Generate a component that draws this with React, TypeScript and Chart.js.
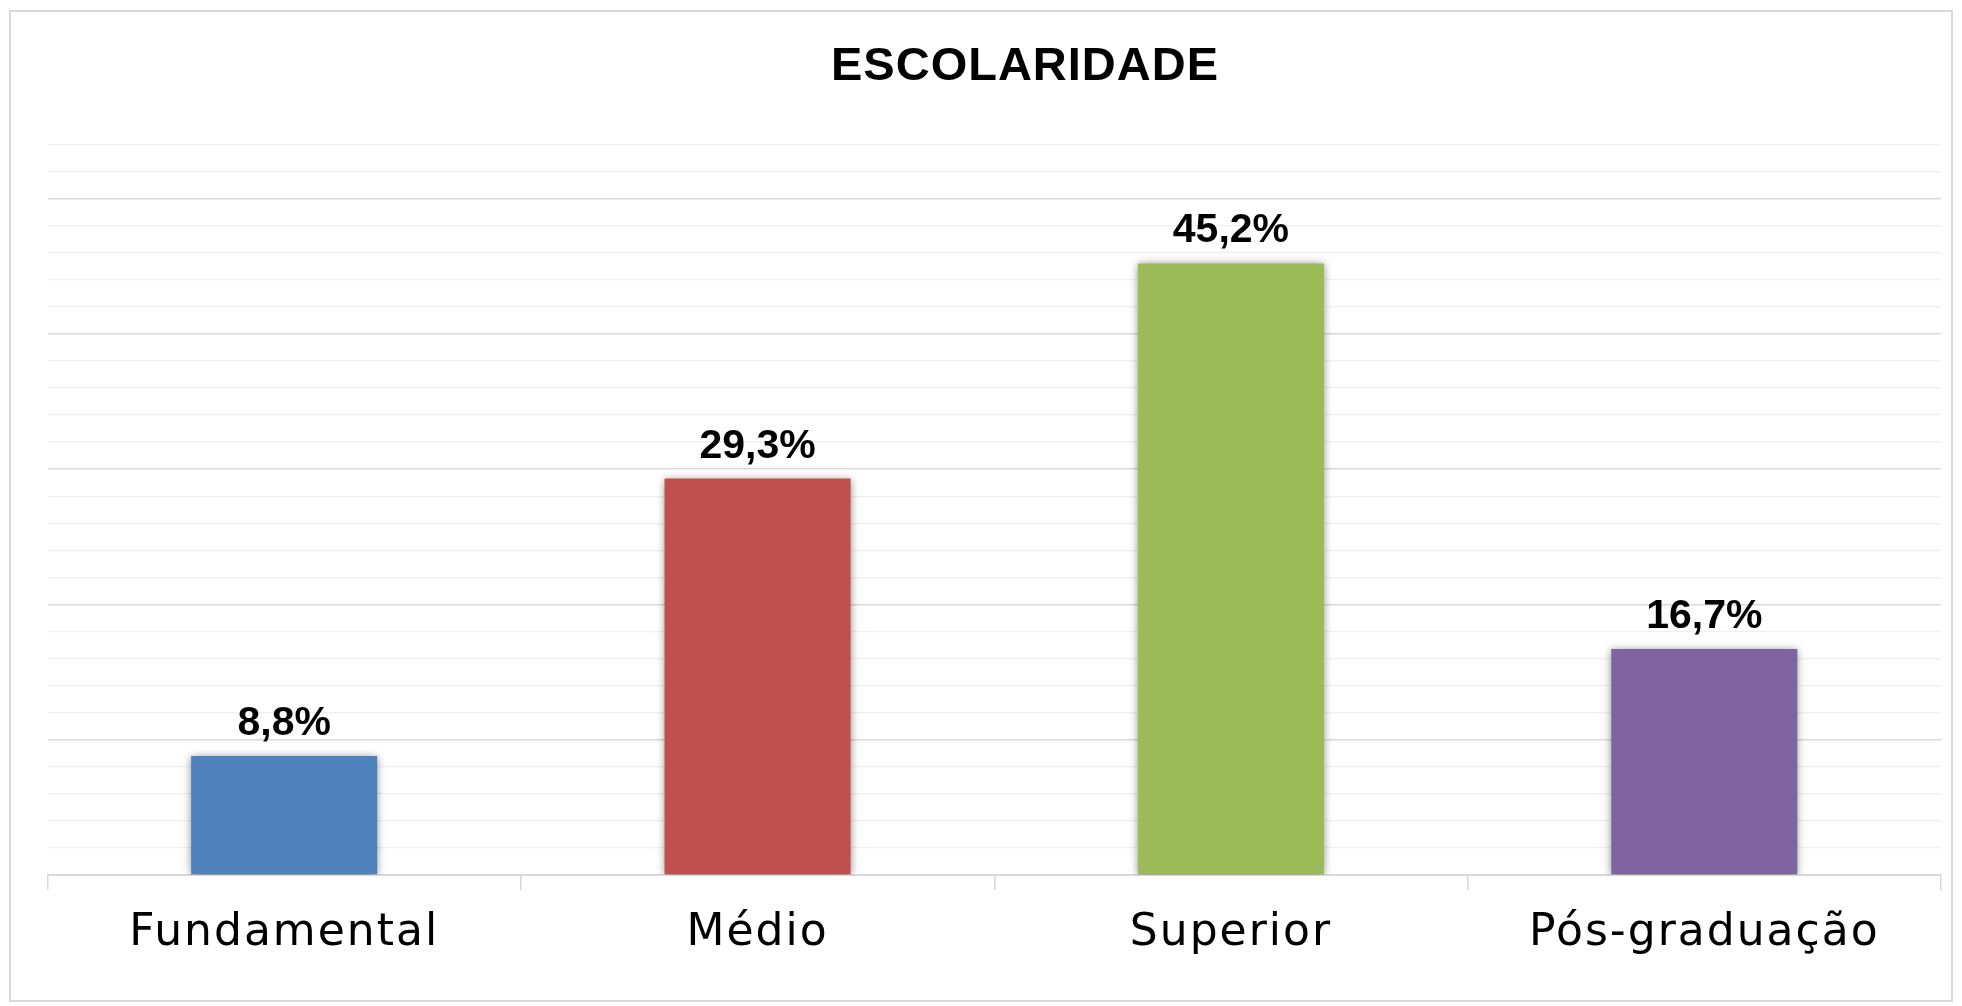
import React, { useEffect, useRef } from "react";
import { Chart, registerables } from "chart.js";

Chart.register(...registerables);

const chartTitle = "ESCOLARIDADE";
const categories = ["Fundamental", "Médio", "Superior", "Pós-graduação"];
const values = [8.8, 29.3, 45.2, 16.7];
const barColors = ["#4F81BD", "#C0504D", "#9BBB59", "#8064A2"];
const yMin = 0;
const yMax = 54;
const yMinorStep = 2;
const yMajorStep = 10;

const W = 1962;
const H = 1006;

const fmt = (v: number) => v.toFixed(1).replace(".", ",") + "%";

export default function App() {
  const ref = useRef<HTMLCanvasElement | null>(null);

  useEffect(() => {
    if (!ref.current) return;
    const decor = {
      id: "decor",
      beforeDraw(chart: any) {
        const ctx = chart.ctx;
        ctx.save();
        ctx.strokeStyle = "#d9d9d9";
        ctx.lineWidth = 2;
        ctx.strokeRect(10, 11, 1942, 990);
        ctx.restore();
        (ctx as any).letterSpacing = "2px";
      },
      beforeDatasetsDraw(chart: any) {
        const ctx = chart.ctx;
        (ctx as any).letterSpacing = "0px";
        ctx.save();
        ctx.shadowColor = "rgba(0,0,0,0.45)";
        ctx.shadowBlur = 8;
        ctx.shadowOffsetX = 0;
        ctx.shadowOffsetY = 1;
      },
      afterDatasetsDraw(chart: any) {
        const ctx = chart.ctx;
        ctx.restore();
        (ctx as any).letterSpacing = "0px";
        const meta = chart.getDatasetMeta(0);
        ctx.save();
        ctx.fillStyle = "#000";
        ctx.font = "bold 41px 'Liberation Sans', Arial, sans-serif";
        ctx.textAlign = "center";
        ctx.textBaseline = "alphabetic";
        meta.data.forEach((bar: any, i: number) => {
          ctx.fillText(fmt(values[i]), bar.x, bar.y - 21);
        });
        ctx.restore();
      },
      afterDraw(chart: any) {
        const ctx = chart.ctx;
        ctx.save();
        (ctx as any).letterSpacing = "1px";
        ctx.fillStyle = "#000";
        ctx.font = "bold 47px 'Liberation Sans', Arial, sans-serif";
        ctx.textAlign = "center";
        ctx.textBaseline = "alphabetic";
        ctx.fillText(chartTitle, 1025, 79.5);
        ctx.restore();
      },
    };

    const chart = new Chart(ref.current, {
      type: "bar",
      data: {
        labels: categories,
        datasets: [
          {
            data: values,
            backgroundColor: barColors,
            borderWidth: 0,
            categoryPercentage: 1,
            barPercentage: 0.393,
          },
        ],
      },
      options: {
        responsive: false,
        animation: false,
        layout: { padding: { top: 144.4, left: 47.5, right: 21, bottom: 0 } },
        plugins: {
          legend: { display: false },
          title: { display: false },
          tooltip: { enabled: false },
        },
        scales: {
          x: {
            offset: true,
            grid: {
              offset: true,
              drawOnChartArea: false,
              drawTicks: true,
              tickLength: 15,
              color: "#d9d9d9",
              lineWidth: 1.5,
            },
            border: { display: true, color: "#d9d9d9", width: 2 },
            ticks: {
              color: "#000",
              padding: 17,
              font: { family: "'DejaVu Sans', sans-serif", size: 44 },
              maxRotation: 0,
              autoSkip: false,
            },
            afterFit(scale: any) {
              scale.height = H - 875;
            },
          },
          y: {
            min: yMin,
            max: yMax,
            ticks: { display: false, stepSize: yMinorStep },
            grid: {
              drawTicks: false,
              color: (c: any) =>
                c.tick && c.tick.value % yMajorStep === 0 ? "#d9d9d9" : "#efefef",
              lineWidth: (c: any) =>
                c.tick && c.tick.value % yMajorStep === 0 ? 1.6 : 1.2,
            },
            border: { display: false },
            afterFit(scale: any) {
              scale.width = 0;
            },
          },
        },
      },
      plugins: [decor],
    });
    return () => chart.destroy();
  }, []);

  return (
    <div style={{ position: "fixed", left: 0, top: 0, width: W, height: H, background: "#fff" }}>
      <canvas ref={ref} width={W} height={H} style={{ width: W, height: H, display: "block" }} />
    </div>
  );
}
